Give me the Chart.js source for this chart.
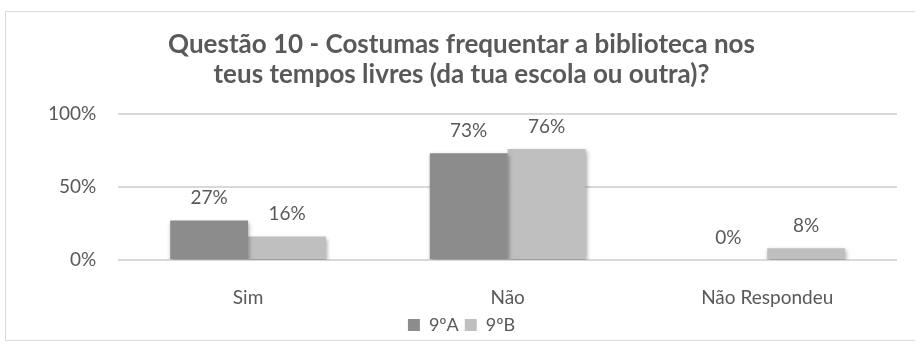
<!DOCTYPE html>
<html>
<head>
<meta charset="utf-8">
<script src="https://cdn.jsdelivr.net/npm/chart.js@4/dist/chart.umd.min.js"></script>
<style>
  body { margin: 0; background: #fff; }
  #box { position: absolute; left: 5px; top: 11px; width: 920px; height: 328px; border: 1px solid #d9d9d9; }
  #wrap { position: absolute; left: 0; top: 0; width: 915px; height: 344px; }
</style>
</head>
<body>
<div id="box"></div>
<div id="wrap"><canvas id="grafico" width="915" height="344"></canvas></div>
<script>
// ---- DADOS ----
var categorias = ['Sim', 'Não', 'Não Respondeu'];
var turmaA = [0.27, 0.73, 0.00];
var turmaB = [0.16, 0.76, 0.08];
var titulo = ['Questão 10 - Costumas frequentar a biblioteca nos', 'teus tempos livres (da tua escola ou outra)?'];

var FONTE = 'Lato, "Open Sans", sans-serif';
var COR_TEXTO = '#595959';

// ---- ROTULOS EM CIMA DAS BARRAS ----
var rotulos = {
  id: 'rotulos',
  afterDatasetsDraw: function(chart) {
    var ctx = chart.ctx;
    ctx.save();
    ctx.font = '19px ' + FONTE;
    ctx.fillStyle = COR_TEXTO;
    ctx.textAlign = 'center';
    ctx.textBaseline = 'bottom';
    chart.data.datasets.forEach(function(ds, i) {
      chart.getDatasetMeta(i).data.forEach(function(bar, j) {
        ctx.fillText(Math.round(ds.data[j] * 100) + '%', bar.x, bar.y - 13);
      });
    });
    ctx.restore();
  }
};

// sombra leve nas barras
var sombra = {
  id: 'sombra',
  beforeDatasetsDraw: function(chart) {
    var ctx = chart.ctx;
    ctx.save();
    ctx.shadowColor = 'rgba(0,0,0,.35)';
    ctx.shadowBlur = 4;
    ctx.shadowOffsetX = 1;
    ctx.shadowOffsetY = 2;
  },
  afterDatasetsDraw: function(chart) {
    chart.ctx.restore();
  }
};

Chart.defaults.font.family = FONTE;
Chart.defaults.color = COR_TEXTO;

new Chart(document.getElementById('grafico'), {
  type: 'bar',
  data: {
    labels: categorias,
    datasets: [
      { label: '9ºA', data: turmaA, backgroundColor: '#8c8c8c' },
      { label: '9ºB', data: turmaB, backgroundColor: '#bfbfbf' }
    ]
  },
  options: {
    responsive: false,
    animation: false,
    devicePixelRatio: 1,
    layout: { padding: { left: 26, right: 18, top: 30, bottom: 0 } },
    datasets: { bar: { categoryPercentage: 0.6, barPercentage: 1 } },
    plugins: {
      title: {
        display: true, text: titulo, color: COR_TEXTO,
        font: { size: 26, weight: 'bold', family: FONTE, lineHeight: 1.15 },
        padding: { top: 0, bottom: 24 }
      },
      legend: {
        position: 'bottom',
        labels: { font: { size: 18 }, boxWidth: 12, boxHeight: 12, padding: 6, color: COR_TEXTO }
      },
      tooltip: { enabled: false }
    },
    scales: {
      y: {
        min: 0, max: 1,
        ticks: { stepSize: 0.5, font: { size: 19 }, padding: 22, color: COR_TEXTO,
          callback: function(v) { return Math.round(v * 100) + '%'; } },
        grid: { color: '#d9d9d9', lineWidth: 2, drawTicks: false },
        border: { display: false }
      },
      x: {
        ticks: { font: { size: 19 }, padding: 18, color: COR_TEXTO },
        grid: { display: false },
        border: { display: false },
        afterFit: function(s) { s.height = 50; }
      }
    }
  },
  plugins: [sombra, rotulos]
});
</script>
</body>
</html>
